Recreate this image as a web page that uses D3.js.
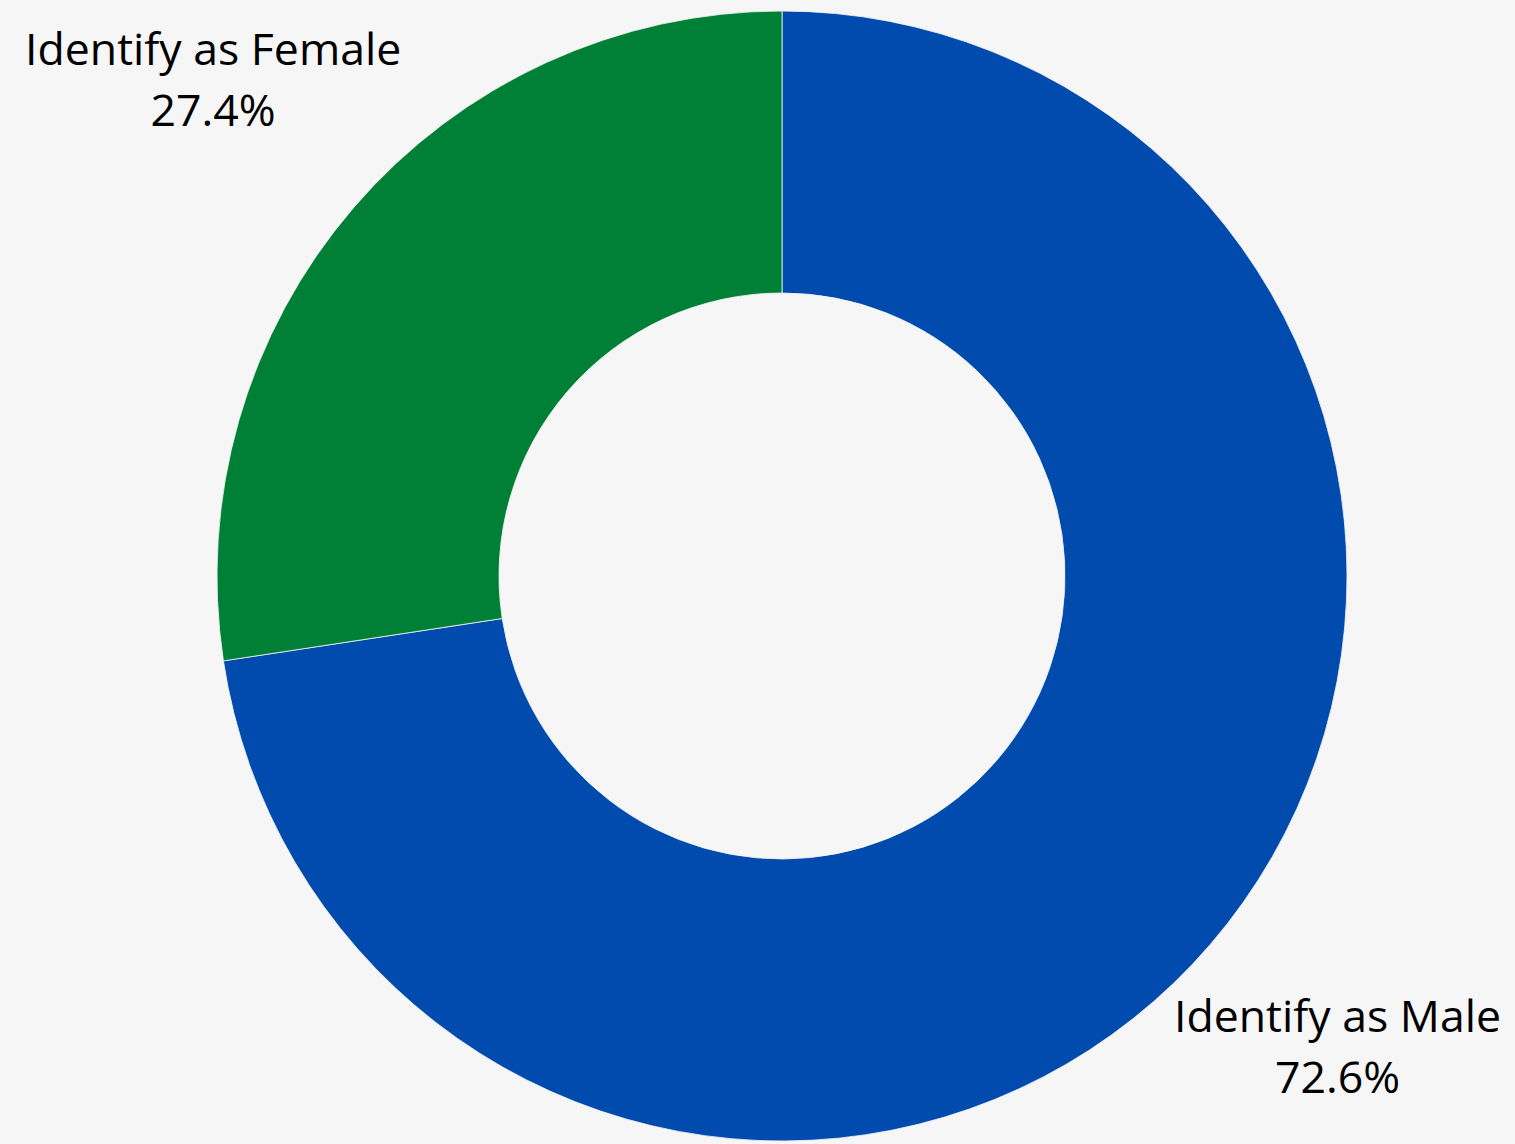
<!DOCTYPE html>
<html>
<head>
<meta charset="utf-8">
<script src="https://cdn.jsdelivr.net/npm/d3@7"></script>
<style>
  html, body { margin: 0; padding: 0; background: #f6f6f6; }
  svg { display: block; }
  text { font-family: "Open Sans", "Noto Sans", sans-serif; fill: #000; }
</style>
</head>
<body>
<svg id="chart" width="1515" height="1144"></svg>
<script>
const categories = ["Identify as Male", "Identify as Female"];
const values = [72.6, 27.4];
const valueLabels = ["72.6%", "27.4%"];
const colors = ["#004BAD", "#008037"];

const W = 1515, H = 1144;
const cx = 782, cy = 576;
const outerR = 565, innerR = 283;
const fontSize = 44.6;

const svg = d3.select("#chart");
svg.append("rect").attr("width", W).attr("height", H).attr("fill", "#f6f6f6");

const data = categories.map((c, i) => ({ name: c, value: values[i], label: valueLabels[i], color: colors[i] }));

const pie = d3.pie().value(d => d.value).sort(null);
const arcs = pie(data);
const arc = d3.arc().innerRadius(innerR).outerRadius(outerR);
const labelArc = d3.arc().innerRadius(752).outerRadius(752);

const g = svg.append("g").attr("transform", `translate(${cx},${cy})`);

g.selectAll("path.slice")
  .data(arcs)
  .join("path")
  .attr("class", "slice")
  .attr("d", arc)
  .attr("fill", d => d.data.color)
  .attr("stroke", "#f6f6f6")
  .attr("stroke-width", 0.8);

const labels = g.selectAll("g.label")
  .data(arcs)
  .join("g")
  .attr("class", "label");

labels.append("text")
  .attr("text-anchor", "middle")
  .attr("y", -30)
  .attr("font-size", fontSize)
  .text(d => d.data.name);

labels.append("text")
  .attr("text-anchor", "middle")
  .attr("y", 31)
  .attr("font-size", fontSize)
  .text(d => d.data.label);

labels.attr("transform", function(d) {
  let [x, y] = labelArc.centroid(d);
  const half = this.getBBox().width / 2;
  // keep the label block inside the canvas
  x = Math.max(-cx + 25 + half, Math.min(W - cx - 14 - half, x));
  y = Math.max(-cy + 95, Math.min(H - cy - 82, y));
  return `translate(${x},${y})`;
});
</script>
</body>
</html>
